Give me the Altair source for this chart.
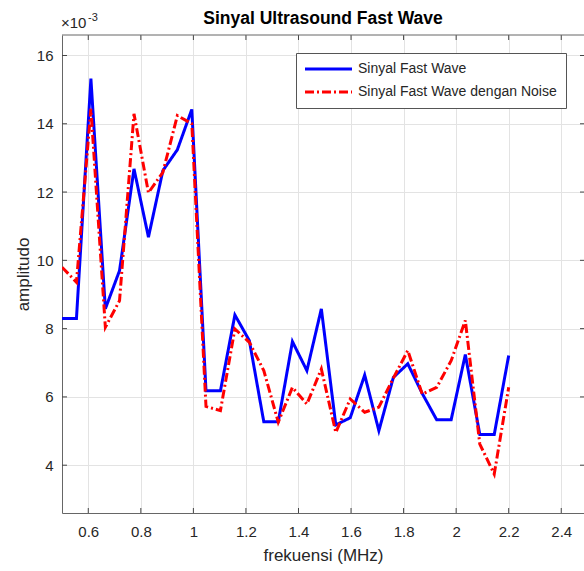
import altair as alt
import pandas as pd

# ---- data (amplitudes in units of 1e-3) ----
freq = [0.500, 0.555, 0.610, 0.665, 0.719, 0.774, 0.829, 0.884, 0.939, 0.994,
        1.048, 1.103, 1.158, 1.213, 1.268, 1.323, 1.377, 1.432, 1.487, 1.542,
        1.597, 1.652, 1.706, 1.761, 1.816, 1.871, 1.926, 1.981, 2.035, 2.090,
        2.145, 2.200]
fast_wave = [8.30, 8.30, 15.32, 8.58, 9.70, 12.68, 10.68, 12.63, 13.24, 14.42,
             6.18, 6.18, 8.40, 7.65, 5.27, 5.27, 7.62, 6.77, 8.58, 5.18,
             5.39, 6.64, 5.01, 6.57, 6.97, 6.10, 5.33, 5.33, 7.24, 4.90,
             4.90, 7.21]
fast_wave_noise = [9.80, 9.36, 14.44, 8.04, 8.82, 14.29, 11.98, 12.58, 14.24, 14.00,
                   5.72, 5.60, 7.99, 7.60, 6.77, 5.26, 6.28, 5.79, 6.82, 4.96,
                   5.94, 5.55, 5.70, 6.55, 7.36, 6.08, 6.28, 7.06, 8.24, 4.62,
                   3.74, 6.28]
series_names = ["Sinyal Fast Wave", "Sinyal Fast Wave dengan Noise"]
series_colors = ["#0000ff", "#ff0000"]
series_dash = [[1, 0], [9, 3, 2, 3]]
x_ticks = [0.6, 0.8, 1.0, 1.2, 1.4, 1.6, 1.8, 2.0, 2.2, 2.4]
y_ticks_milli = [4, 6, 8, 10, 12, 14, 16]
title_text = "Sinyal Ultrasound Fast Wave"

SCALE = 1e-3
rows = []
for name, vals in zip(series_names, [fast_wave, fast_wave_noise]):
    for f, v in zip(freq, vals):
        rows.append({"frekuensi": f, "amplitudo": v * SCALE, "seri": name})
df = pd.DataFrame(rows)
y_tick_vals = [t * SCALE for t in y_ticks_milli]
xt = pd.DataFrame({"frekuensi": x_ticks})
yt = pd.DataFrame({"amplitudo": y_tick_vals})
one = pd.DataFrame({"a": [0]})

W, H = 522, 478
FONT = "Liberation Sans"
TXT = "#262626"
x_dom = [0.5, 2.4866]
y_dom = [2.6e-3, 16.6e-3]

xs = alt.Scale(domain=x_dom, nice=False, zero=False)
ys = alt.Scale(domain=y_dom, nice=False, zero=False)
x_axis = alt.Axis(values=x_ticks, title="frekuensi (MHz)", ticks=False,
                  labelPadding=11, titlePadding=8, grid=True,
                  labelExpr="format(datum.value, '.1~f')")
y_axis = alt.Axis(values=y_tick_vals, title="amplitudo", ticks=False,
                  labelPadding=9, titlePadding=4, grid=True,
                  labelExpr="format(round(datum.value*1000), 'd')")
X = alt.X("frekuensi:Q", scale=xs, axis=x_axis)
Y = alt.Y("amplitudo:Q", scale=ys, axis=y_axis)

leg = dict(orient="none", legendX=234, legendY=18, title=None,
           symbolType="M-1.4,0H8", symbolSize=100, symbolStrokeWidth=3,
           labelOffset=39, labelFont=FONT, labelFontSize=14, labelColor=TXT,
           fillColor="white", strokeColor="#555555", padding=9, rowPadding=9,
           labelLimit=400)

lines = alt.Chart(df).mark_line(strokeWidth=3, clip=True).encode(
    x=X, y=Y,
    color=alt.Color("seri:N", scale=alt.Scale(domain=series_names, range=series_colors),
                    legend=alt.Legend(**leg)),
    strokeDash=alt.StrokeDash("seri:N", scale=alt.Scale(domain=series_names, range=series_dash),
                              legend=alt.Legend(**leg)),
    order=alt.Order("seri:N"),
)

tick_col = "#444444"
xb = alt.Chart(xt).mark_rule(color=tick_col, strokeWidth=1).encode(
    x=X, y=alt.value(H), y2=alt.value(H - 5))
xtop = alt.Chart(xt).mark_rule(color=tick_col, strokeWidth=1).encode(
    x=X, y=alt.value(0), y2=alt.value(5))
yl = alt.Chart(yt).mark_rule(color=tick_col, strokeWidth=1).encode(
    y=Y, x=alt.value(0), x2=alt.value(5))
yr = alt.Chart(yt).mark_rule(color=tick_col, strokeWidth=1).encode(
    y=Y, x=alt.value(W - 4), x2=alt.value(W))
top_border = alt.Chart(one).mark_rule(color="#666666", strokeWidth=1).encode(
    x=alt.value(0), x2=alt.value(W), y=alt.value(0))

exp_base = alt.Chart(one).mark_text(text="×10", align="left", baseline="alphabetic",
                                    font=FONT, fontSize=15, color=TXT).encode(
    x=alt.value(-1), y=alt.value(-7))
exp_pow = alt.Chart(one).mark_text(text="-3", align="left", baseline="alphabetic",
                                   font=FONT, fontSize=11, color=TXT).encode(
    x=alt.value(26), y=alt.value(-14))
title = alt.Chart(one).mark_text(text=title_text, align="center", baseline="alphabetic",
                                 font=FONT, fontSize=17.5, fontWeight="bold",
                                 color="#000000").encode(
    x=alt.value(W / 2), y=alt.value(-11))

chart = alt.layer(lines, xb, xtop, yl, yr, top_border, exp_base, exp_pow, title).properties(
    width=W, height=H, background="white",
    autosize=alt.AutoSizeParams(type="none"),
    padding={"left": 62, "top": 35, "right": 0, "bottom": 58},
).configure_view(stroke=None).configure_axis(
    labelFont=FONT, labelFontSize=15, labelColor=TXT,
    titleFont=FONT, titleFontSize=17, titleColor=TXT, titleFontWeight="normal",
    domainColor="#666666", domainWidth=1, gridColor="#e3e3e3", gridWidth=1,
)

chart.save("out.html", embed_options={"renderer": "svg", "actions": False})
